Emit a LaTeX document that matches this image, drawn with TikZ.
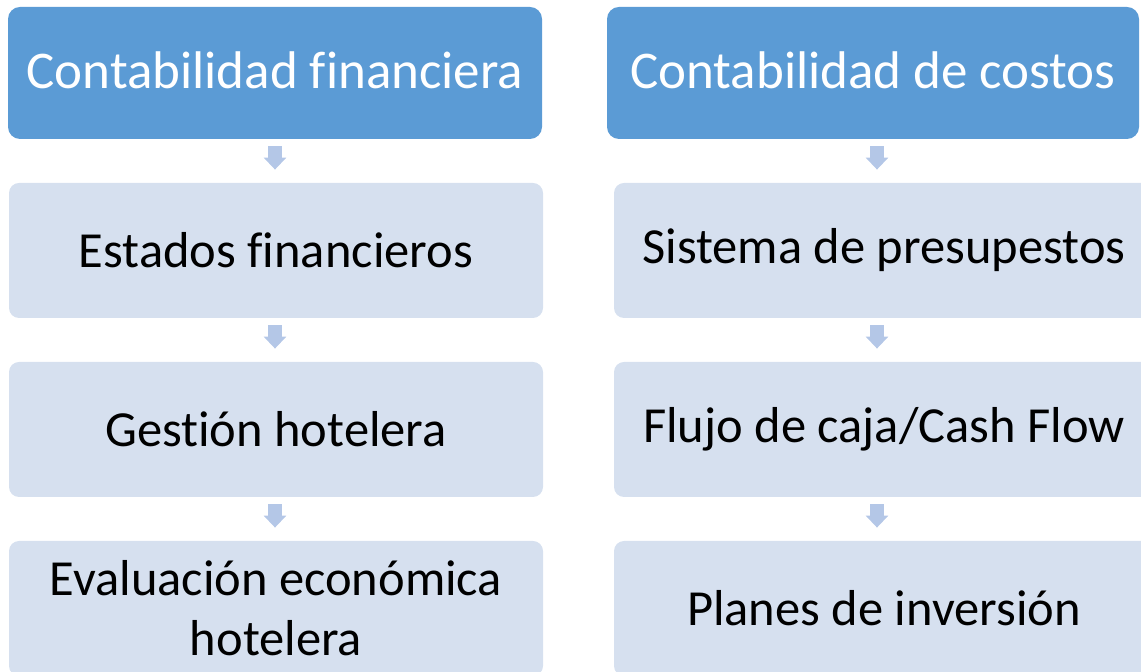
\documentclass[tikz,border=0pt]{standalone}
\usepackage{fontspec}
\setmainfont{Carlito}[Ligatures={NoCommon,NoContextual}]
\usetikzlibrary{arrows.meta}
\definecolor{topblue}{HTML}{5B9BD5}
\definecolor{lightbox}{HTML}{D6E0EF}
\definecolor{arrowc}{HTML}{B4C7E7}
\begin{document}
\begin{tikzpicture}[x=0.5pt,y=-0.5pt,
  headbox/.style={fill=topblue, rounded corners=6pt, text=white,
    font=\fontsize{26.5}{32}\selectfont, minimum height=66pt,
    text depth=3pt, inner sep=0pt, align=center},
  itembox/.style={fill=lightbox, rounded corners=5pt, text=black,
    font=\fontsize{25.25}{30}\selectfont, minimum height=67.5pt,
    inner sep=0pt, align=center},
  conn/.style={draw=arrowc, line width=7pt,
    -{Triangle[width=11pt,length=6pt]},
    shorten <=3.5pt, shorten >=6.5pt}
]
\useasboundingbox (0,0) rectangle (1141,672);
\clip (0,0) rectangle (1141,672);
% left column
\node[headbox, minimum width=267pt] (l1) at (275,73) {Contabilidad financiera};
\node[itembox, minimum width=267pt] (l2) at (276,250.5) {Estados financieros};
\node[itembox, minimum width=267pt] (l3) at (276,429.5) {Gestión hotelera};
\node[itembox, minimum width=267pt] (l4) at (276,608.5) {Evaluación económica\\hotelera};
% right column
\node[headbox, minimum width=266pt] (r1) at (873,73) {Contabilidad de costos};
\node[itembox, minimum width=270pt] (r2) at (884,250.5) {Sistema de presupestos};
\node[itembox, minimum width=270pt] (r3) at (884,429.5) {Flujo de caja/Cash Flow};
\node[itembox, minimum width=270pt] (r4) at (884,608.5) {Planes de inversión};
% arrow axes
\coordinate (lx) at (275,0);
\coordinate (rx) at (877,0);
\draw[conn] (l1.south -| lx) -- (l2.north -| lx);
\draw[conn] (l2.south -| lx) -- (l3.north -| lx);
\draw[conn] (l3.south -| lx) -- (l4.north -| lx);
\draw[conn] (r1.south -| rx) -- (r2.north -| rx);
\draw[conn] (r2.south -| rx) -- (r3.north -| rx);
\draw[conn] (r3.south -| rx) -- (r4.north -| rx);
\end{tikzpicture}
\end{document}
